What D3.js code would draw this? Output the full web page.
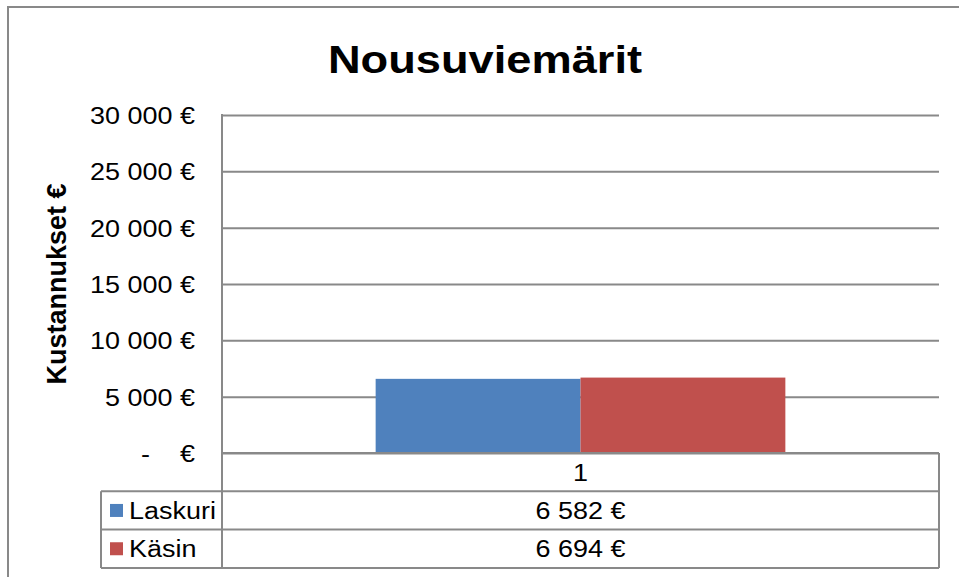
<!DOCTYPE html>
<html><head><meta charset="utf-8">
<script src="https://cdn.jsdelivr.net/npm/d3@7"></script>
<style>
body{margin:0;background:#fff}
svg{display:block}
text{font-family:"Liberation Sans",Arial,sans-serif;fill:#000}
</style>
</head><body>
<svg id="chart" width="959" height="577"></svg>
<script>
const chartTitle = "Nousuviemärit";
const yAxisTitle = "Kustannukset €";
const categories = ["1"];
const seriesNames = ["Laskuri", "Käsin"];
const seriesColors = ["#4F81BD", "#C0504D"];
const laskuriValues = [6582];
const kasinValues = [6694];
const yTickValues = [0, 5000, 10000, 15000, 20000, 25000, 30000];
const yDomain = [0, 30000];

const series = [
  {name: seriesNames[0], color: seriesColors[0], values: laskuriValues},
  {name: seriesNames[1], color: seriesColors[1], values: kasinValues}
];

const svg = d3.select("#chart");
const plot = {left: 222, right: 939, top: 115, bottom: 453};
const table = {left: 101, rowH: 38.3};
const gridColor = "#898989";
const fs = 24.5, sx = 1.1;

const fmtNum = v => {
  if (v === 0) return "-\u00a0\u00a0\u00a0\u00a0€";
  return d3.format(",")(v).replace(/,/g, "\u00a0") + "\u00a0€";
};

// outer frame (extends beyond the picture to the right and bottom)
svg.append("rect").attr("x", 8).attr("y", 7).attr("width", 980).attr("height", 600)
  .attr("fill", "#fff").attr("stroke", gridColor).attr("stroke-width", 2);

const y = d3.scaleLinear().domain(yDomain).range([plot.bottom, plot.top]);
const x = d3.scaleBand().domain(categories).range([plot.left, plot.right]);
const xs = d3.scaleBand().domain(seriesNames).range([0, x.bandwidth()])
  .paddingInner(0).paddingOuter(0.75);

// gridlines + y labels
const yAxis = d3.axisLeft(y).tickValues(yTickValues).tickFormat(fmtNum)
  .tickSize(-(plot.right - plot.left)).tickSizeOuter(0);
const gy = svg.append("g").attr("transform", `translate(${plot.left},0)`).call(yAxis);
gy.select(".domain").remove();
gy.selectAll(".tick line").attr("stroke", gridColor).attr("stroke-width", 2);
gy.selectAll(".tick text")
  .attr("x", -27 / sx).attr("dy", "0.34em")
  .attr("transform", `scale(${sx},1)`)
  .style("font-size", fs + "px")
  .attr("fill", "#000");

// bars
const catG = svg.append("g");
categories.forEach((c, i) => {
  series.forEach(s => {
    catG.append("rect")
      .attr("x", x(c) + xs(s.name))
      .attr("y", y(s.values[i]))
      .attr("width", xs.bandwidth())
      .attr("height", y(0) - y(s.values[i]))
      .attr("fill", s.color);
  });
});

// axis lines
svg.append("line").attr("x1", plot.left).attr("x2", plot.left)
  .attr("y1", plot.top - 1).attr("y2", plot.bottom + table.rowH * 3)
  .attr("stroke", gridColor).attr("stroke-width", 2);
svg.append("line").attr("x1", plot.left).attr("x2", plot.right)
  .attr("y1", plot.bottom).attr("y2", plot.bottom)
  .attr("stroke", gridColor).attr("stroke-width", 2);

// data table
const rowsY = [plot.bottom, plot.bottom + table.rowH, plot.bottom + 2 * table.rowH, plot.bottom + 3 * table.rowH];
const tg = svg.append("g");
[1, 2, 3].forEach(k => {
  tg.append("line").attr("x1", table.left).attr("x2", plot.right)
    .attr("y1", rowsY[k]).attr("y2", rowsY[k])
    .attr("stroke", gridColor).attr("stroke-width", 2);
});
tg.append("line").attr("x1", table.left).attr("x2", table.left)
  .attr("y1", rowsY[1]).attr("y2", rowsY[3]).attr("stroke", gridColor).attr("stroke-width", 2);
tg.append("line").attr("x1", plot.right).attr("x2", plot.right)
  .attr("y1", rowsY[0]).attr("y2", rowsY[3]).attr("stroke", gridColor).attr("stroke-width", 2);

function stretchedText(g, str, px, py, anchor, size, weight, scaleX) {
  return g.append("text")
    .attr("transform", `translate(${px},${py}) scale(${scaleX},1)`)
    .attr("text-anchor", anchor).attr("dy", "0.35em")
    .style("font-size", size + "px").style("font-weight", weight)
    .text(str);
}

// category row
categories.forEach(c => {
  stretchedText(tg, c, x(c) + x.bandwidth() / 2, (rowsY[0] + rowsY[1]) / 2, "middle", fs, "normal", sx);
});
// series rows
series.forEach((s, r) => {
  const cy = (rowsY[r + 1] + rowsY[r + 2]) / 2;
  tg.append("rect").attr("x", 110).attr("y", cy - 6.5).attr("width", 13).attr("height", 13).attr("fill", s.color);
  stretchedText(tg, s.name, 129, cy, "start", fs, "normal", sx);
  categories.forEach((c, i) => {
    stretchedText(tg, fmtNum(s.values[i]), x(c) + x.bandwidth() / 2, cy, "middle", fs, "normal", sx);
  });
});

// titles
svg.append("text").attr("transform", `translate(485,73) scale(1.16,1)`)
  .attr("text-anchor", "middle").style("font-size", "39px").style("font-weight", "bold")
  .text(chartTitle);
svg.append("text").attr("transform", `translate(57,${(plot.top + plot.bottom) / 2}) rotate(-90)`)
  .attr("text-anchor", "middle").attr("dy", "0.35em")
  .style("font-size", "27px").style("font-weight", "bold")
  .text(yAxisTitle);
</script>
</body></html>
